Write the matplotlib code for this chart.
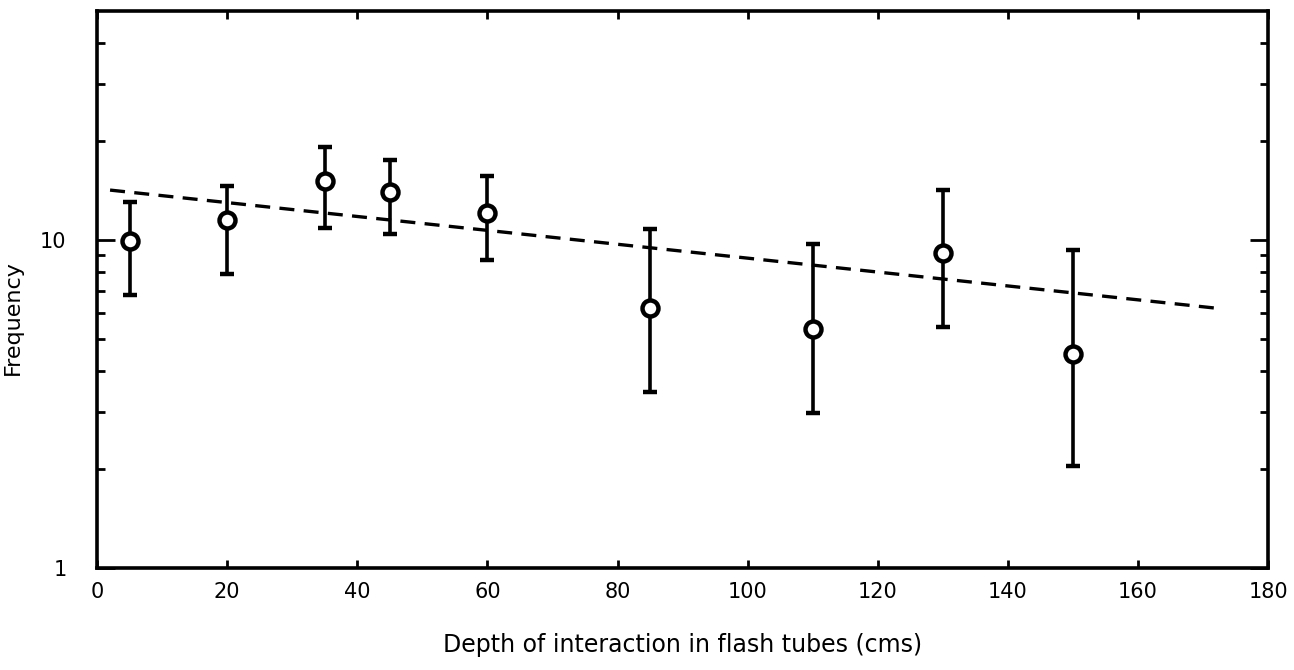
import matplotlib
matplotlib.use("Agg")
import matplotlib.pyplot as plt
from matplotlib.ticker import FixedLocator, NullFormatter, FixedFormatter

# Measured frequency vs. depth of interaction
depth = [5, 20, 35, 45, 60, 85, 110, 130, 150]
freq = [9.9, 11.5, 15.1, 14.0, 12.1, 6.2, 5.35, 9.1, 4.5]
err_upper = [13.1, 14.6, 19.2, 17.6, 15.7, 10.8, 9.7, 14.2, 9.3]
err_lower = [6.8, 7.9, 10.9, 10.4, 8.7, 3.45, 2.97, 5.45, 2.05]

# Exponential fit, drawn as a straight line on the log scale
fit_depth = [2, 172]
fit_freq = [14.2, 6.2]

x_ticks = [0, 20, 40, 60, 80, 100, 120, 140, 160, 180]
y_major = [1, 10]
y_major_labels = ["1", "10"]
y_minor = [2, 3, 4, 5, 6, 7, 8, 9, 20, 30, 40]

fig = plt.figure(figsize=(12.94, 6.70), dpi=100)
ax = fig.add_axes([0.075, 0.152, 0.905, 0.832])

yerr = [[f - lo for f, lo in zip(freq, err_lower)],
        [hi - f for f, hi in zip(freq, err_upper)]]

ax.plot(fit_depth, fit_freq, color="black", lw=2.4, dashes=(4.5, 2.8),
        zorder=2)
ax.errorbar(depth, freq, yerr=yerr, fmt="o", color="black", ecolor="black",
            elinewidth=2.6, capsize=5, capthick=2.8, ms=11.5, mew=3.2,
            mfc="white", mec="black", zorder=3)

ax.set_yscale("log")
ax.set_xlim(0, 180)
ax.set_ylim(1, 50)

ax.xaxis.set_major_locator(FixedLocator(x_ticks))
ax.yaxis.set_major_locator(FixedLocator(y_major))
ax.yaxis.set_major_formatter(FixedFormatter(y_major_labels))
ax.yaxis.set_minor_locator(FixedLocator(y_minor))
ax.yaxis.set_minor_formatter(NullFormatter())

for s in ax.spines.values():
    s.set_linewidth(2.6)

ax.tick_params(axis="both", which="both", direction="in", top=True,
               right=True, colors="black", width=2.0)
ax.tick_params(axis="x", which="major", length=6, pad=10, labelsize=15)
ax.tick_params(axis="y", which="major", length=13, pad=22, labelsize=15)
ax.tick_params(axis="y", which="minor", length=6)

ax.set_xlabel("Depth of interaction in flash tubes (cms)", fontsize=17,
              labelpad=22)
ax.set_ylabel("Frequency", fontsize=16)
ax.yaxis.set_label_coords(-0.063, 0.45)

fig.savefig("out.png", dpi=100, facecolor="white")
